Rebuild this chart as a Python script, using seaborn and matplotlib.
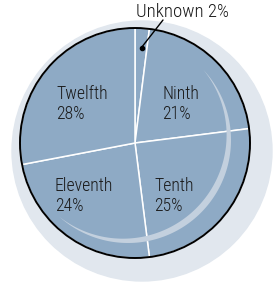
import numpy as np
import matplotlib
matplotlib.use("Agg")
import matplotlib.pyplot as plt
import seaborn as sns
from matplotlib.patches import Circle, Polygon

# ---- data ----
grades = ["Unknown", "Ninth", "Tenth", "Eleventh", "Twelfth"]
shares = [2, 21, 25, 24, 28]

# label anchors (pixel coords, y down) for the in-pie labels
label_pos = {"Ninth": (162, 85), "Tenth": (154, 177),
             "Eleventh": (55, 177), "Twelfth": (56, 85)}

sns.set_theme(style="white")
plt.rcParams["font.family"] = ["Roboto Condensed", "Liberation Sans Narrow", "Roboto", "DejaVu Sans"]

W, H = 275, 282
fig = plt.figure(figsize=(W / 100, H / 100), dpi=100)
ax = fig.add_axes([0, 0, 1, 1])

def Y(y):
    return H - y

cx, cy, r = 135, Y(143), 115

# light halo behind the pie
ax.add_patch(Circle((142, Y(151)), 130, color="#e1e7ee", zorder=0))

fill = "#8eaac5"
wedges, _ = ax.pie(shares, colors=[fill] * len(shares), startangle=90,
                   counterclock=False, center=(cx, cy), radius=r,
                   wedgeprops=dict(edgecolor="white", linewidth=1.1),
                   frame=True)
for w in wedges:
    w.set_zorder(1)
ax.set_xlim(0, W)
ax.set_ylim(0, H)
ax.axis("off")

# crescent highlight inside the pie
c2x, c2y, r2 = 128, Y(140), 103
th = np.radians(np.linspace(43, -132, 120))
t = 6.5 * np.sin(np.linspace(0, np.pi, th.size))
outer = np.column_stack([c2x + r2 * np.cos(th), c2y + r2 * np.sin(th)])
inner = np.column_stack([c2x + (r2 - t) * np.cos(th), c2y + (r2 - t) * np.sin(th)])[::-1]
ax.add_patch(Polygon(np.vstack([outer, inner]), closed=True, color="#c3d0de",
                     lw=0, zorder=2))

# pie outline
ax.add_patch(Circle((cx, cy), r, fill=False, ec="black", lw=1.4, zorder=3))

fs = 12.8
for g, s in zip(grades, shares):
    if g in label_pos:
        x, y = label_pos[g]
        ax.text(x, Y(y), f"{g}\n{s}%", fontsize=fs, ha="left", va="top",
                linespacing=1.15, color="#1a1a1a", fontweight="light", zorder=4)

# callout for the small slice
ax.plot([141.5, 163], [Y(47.5), Y(20)], color="black", lw=1.0, zorder=4)
ax.plot([141.5], [Y(47.5)], "o", color="black", ms=3, zorder=4)
ax.text(183, Y(12), f"{grades[0]} {shares[0]}%", fontsize=13.5, ha="center",
        va="center", color="#1a1a1a", fontweight="light", zorder=4)

fig.savefig("out.png", dpi=100)
